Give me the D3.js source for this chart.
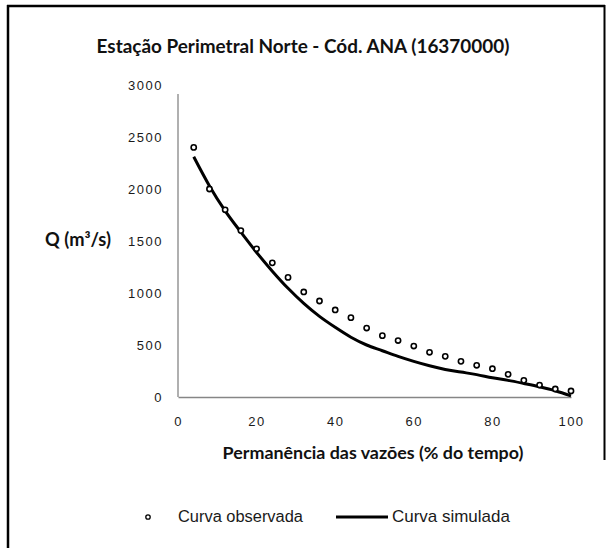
<!DOCTYPE html>
<html>
<head>
<meta charset="utf-8">
<script src="https://cdn.jsdelivr.net/npm/d3@7"></script>
<style>
  body { margin: 0; background: #fff; }
  svg { display: block; }
</style>
</head>
<body>
<script>
// ---- data ----
const titleText = "Estação Perimetral Norte - Cód. ANA (16370000)";
const xTitle = "Permanência das vazões (% do tempo)";
const yTitle = "Q (m³/s)";
const xTicks = [0, 20, 40, 60, 80, 100];
const yTicks = [0, 500, 1000, 1500, 2000, 2500, 3000];
const permanence = [4, 8, 12, 16, 20, 24, 28, 32, 36, 40, 44, 48, 52, 56, 60, 64, 68, 72, 76, 80, 84, 88, 92, 96, 100];
const observed = [2400, 2000, 1800, 1600, 1425, 1290, 1150, 1010, 923, 837, 763, 663, 590, 543, 490, 430, 391, 343, 305, 272, 218, 160, 115, 77, 58];
const simulated = [2310, 2030, 1790, 1585, 1390, 1210, 1045, 900, 775, 670, 575, 500, 445, 390, 342, 300, 265, 240, 215, 185, 160, 130, 98, 60, 10];
const legendLabels = ["Curva observada", "Curva simulada"];

const W = 609, H = 548;
const svg = d3.select("body").append("svg").attr("width", W).attr("height", H);

// frame
svg.append("line").attr("x1", 8).attr("x2", 8).attr("y1", 5).attr("y2", H).attr("stroke", "#000").attr("stroke-width", 2.5);
svg.append("line").attr("x1", 7).attr("x2", 605).attr("y1", 6).attr("y2", 6).attr("stroke", "#000").attr("stroke-width", 2.5);
svg.append("line").attr("x1", 604.5).attr("x2", 604.5).attr("y1", 5).attr("y2", 460).attr("stroke", "#000").attr("stroke-width", 2);

const x = d3.scaleLinear().domain([0, 100]).range([178, 571]);
const y = d3.scaleLinear().domain([0, 3000]).range([397, 85]);

// scale font size so the text spans the target width
function fit(sel, target) {
  const w = sel.node().getComputedTextLength();
  const fs = +sel.attr("font-size");
  sel.attr("font-size", (fs * target / w).toFixed(2));
}

const tickFont = "Liberation Sans, Arial, sans-serif";
const fmt = d3.format("d");

// axes
const xAxis = d3.axisBottom(x).tickValues(xTicks).tickFormat(fmt).tickSize(0).tickPadding(20);
const gx = svg.append("g").attr("transform", `translate(0,${y(0)})`).call(xAxis);
gx.select(".domain").attr("stroke", "#868686").attr("stroke-width", 1.3);
gx.selectAll("text").attr("font-family", tickFont).attr("font-size", 13).attr("fill", "#1a1a1a")
  .attr("letter-spacing", 1.5);

const yAxis = d3.axisLeft(y).tickValues(yTicks).tickFormat(fmt).tickSize(0).tickPadding(15);
const gy = svg.append("g").attr("transform", `translate(${x(0)},0)`).call(yAxis);
gy.select(".domain").remove();
svg.append("line").attr("x1", x(0)).attr("x2", x(0)).attr("y1", 94).attr("y2", y(0))
  .attr("stroke", "#868686").attr("stroke-width", 1.3);
gy.selectAll("text").attr("font-family", tickFont).attr("font-size", 13).attr("fill", "#1a1a1a")
  .attr("letter-spacing", 1.5);

// simulated line
const line = d3.line().x((d, i) => x(permanence[i])).y(d => y(d)).curve(d3.curveMonotoneX);
svg.append("path").datum(simulated).attr("d", line).attr("fill", "none")
  .attr("stroke", "#000").attr("stroke-width", 3).attr("stroke-linejoin", "round");

// observed markers
svg.append("g").selectAll("circle").data(observed).join("circle")
  .attr("cx", (d, i) => x(permanence[i])).attr("cy", d => y(d)).attr("r", 2.6)
  .attr("fill", "#fff").attr("stroke", "#000").attr("stroke-width", 1.6);

// titles
const titleFont = "Lato, 'Open Sans', sans-serif";
const t = svg.append("text").attr("x", 303).attr("y", 53).attr("text-anchor", "middle")
  .attr("font-family", titleFont).attr("font-weight", "bold").attr("font-size", 16).attr("fill", "#111").text(titleText);
fit(t, 413);

const yt = svg.append("text").attr("x", 78).attr("y", 246).attr("text-anchor", "middle")
  .attr("font-family", titleFont).attr("font-weight", "bold").attr("font-size", 14).attr("fill", "#111").text(yTitle);
fit(yt, 66);

const xt = svg.append("text").attr("x", 373).attr("y", 459).attr("text-anchor", "middle")
  .attr("font-family", titleFont).attr("font-weight", "bold").attr("font-size", 14).attr("fill", "#111").text(xTitle);
fit(xt, 301);

// legend
const ly = 517;
svg.append("circle").attr("cx", 148).attr("cy", ly).attr("r", 2.2)
  .attr("fill", "#fff").attr("stroke", "#000").attr("stroke-width", 1.3);
const l1 = svg.append("text").attr("x", 178).attr("y", ly + 5).attr("font-family", tickFont)
  .attr("font-size", 14).attr("fill", "#1a1a1a").text(legendLabels[0]);
fit(l1, 125);
svg.append("line").attr("x1", 336).attr("x2", 388).attr("y1", ly).attr("y2", ly)
  .attr("stroke", "#000").attr("stroke-width", 3);
const l2 = svg.append("text").attr("x", 392).attr("y", ly + 5).attr("font-family", tickFont)
  .attr("font-size", 14).attr("fill", "#1a1a1a").text(legendLabels[1]);
fit(l2, 118);
</script>
</body>
</html>
